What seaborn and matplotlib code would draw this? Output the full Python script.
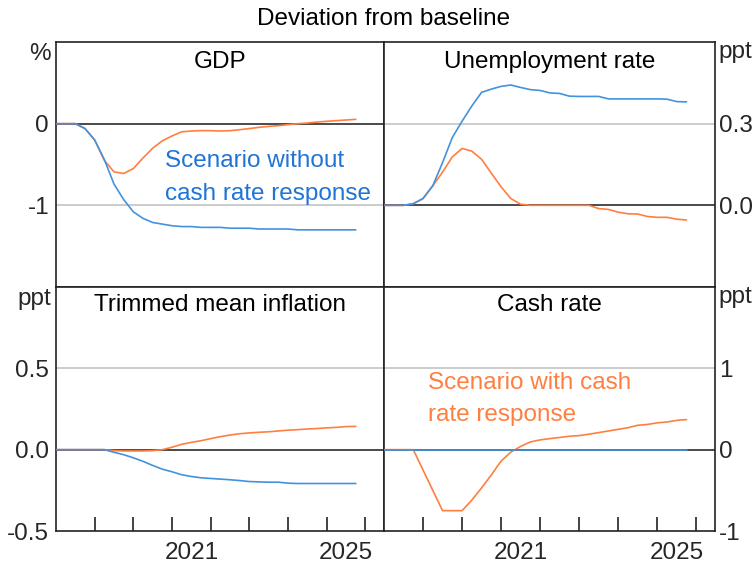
import numpy as np
import pandas as pd
import matplotlib
matplotlib.use("Agg")
import matplotlib.pyplot as plt
import matplotlib.transforms as mtransforms
import seaborn as sns

# ---------------- data ----------------
quarters = pd.period_range("2018Q1", "2025Q4", freq="Q")
t = np.array([q.year + (q.quarter - 1) / 4 for q in quarters])

gdp_without = [0, 0, 0, -0.06, -0.20, -0.44, -0.74, -0.93, -1.08, -1.16, -1.21, -1.23,
               -1.25, -1.26, -1.26, -1.27, -1.27, -1.27, -1.28, -1.28, -1.28, -1.29,
               -1.29, -1.29, -1.29, -1.30, -1.30, -1.30, -1.30, -1.30, -1.30, -1.30]
gdp_with = [0, 0, 0, -0.06, -0.20, -0.45, -0.59, -0.61, -0.55, -0.42, -0.30, -0.21,
            -0.15, -0.10, -0.09, -0.085, -0.086, -0.09, -0.086, -0.074, -0.06, -0.045,
            -0.033, -0.025, -0.012, 0.0, 0.008, 0.02, 0.029, 0.037, 0.045, 0.053]

unemp_without = [0, 0, 0, 0.006, 0.025, 0.072, 0.157, 0.249, 0.309, 0.365, 0.415, 0.427,
                 0.437, 0.442, 0.433, 0.425, 0.422, 0.413, 0.411, 0.401, 0.40, 0.40,
                 0.40, 0.391, 0.391, 0.391, 0.391, 0.391, 0.391, 0.390, 0.381, 0.38]
unemp_with = [0, 0, 0, 0.006, 0.025, 0.072, 0.122, 0.178, 0.209, 0.199, 0.169, 0.118,
              0.068, 0.025, 0.004, 0, 0, 0, 0, 0, 0, 0, -0.012, -0.015, -0.025, -0.031,
              -0.032, -0.041, -0.044, -0.044, -0.051, -0.054]

infl_without = [0, 0, 0, 0, 0, 0, -0.016, -0.031, -0.05, -0.072, -0.097, -0.12, -0.136,
                -0.154, -0.165, -0.173, -0.177, -0.181, -0.185, -0.19, -0.196, -0.198,
                -0.2, -0.2, -0.206, -0.208, -0.208, -0.208, -0.208, -0.208, -0.208, -0.208]
infl_with = [0, 0, 0, 0, 0, 0, -0.006, -0.008, -0.008, -0.008, -0.006, 0.0, 0.015, 0.033,
             0.045, 0.055, 0.068, 0.08, 0.09, 0.098, 0.103, 0.107, 0.11, 0.115, 0.12,
             0.123, 0.127, 0.13, 0.134, 0.137, 0.142, 0.143]

cash_without = [0] * 32
cash_with = [0, 0, 0, 0, -0.25, -0.5, -0.75, -0.75, -0.75, -0.62, -0.47, -0.31, -0.14,
             -0.03, 0.04, 0.095, 0.12, 0.136, 0.15, 0.165, 0.173, 0.19, 0.21, 0.23, 0.25,
             0.27, 0.30, 0.31, 0.33, 0.34, 0.36, 0.37]

panel_titles = ["GDP", "Unemployment rate", "Trimmed mean inflation", "Cash rate"]
units = ["%", "ppt", "ppt", "ppt"]
yticks_gdp = [-2, -1, 0, 1]
ylabels_gdp = ["", "-1", "0", ""]
yticks_unemp = [-0.3, 0.0, 0.3, 0.6]
ylabels_unemp = ["", "0.0", "0.3", ""]
yticks_infl = [-0.5, 0.0, 0.5, 1.0]
ylabels_infl = ["-0.5", "0.0", "0.5", ""]
yticks_cash = [-1, 0, 1, 2]
ylabels_cash = ["-1", "0", "1", ""]
year_ticks = [2019, 2020, 2021, 2022, 2023, 2024, 2025, 2026]
year_label_pos = [2021.5, 2025.5]
year_labels = ["2021", "2025"]

# ---------------- style ----------------
sns.set_theme(style="white")
plt.rcParams["font.family"] = ["Liberation Sans", "DejaVu Sans"]
plt.rcParams["axes.unicode_minus"] = False

BLUE = "#4293dd"
BLUE_TXT = "#1f74d6"
ORANGE = "#ff7f41"
FS = 17.5

W, H = 755, 565
fig = plt.figure(figsize=(W / 100, H / 100), dpi=100)


def add_ax(x0, y0, x1, y1):
    return fig.add_axes([x0 / W, 1 - y1 / H, (x1 - x0) / W, (y1 - y0) / H])


axes = [add_ax(56, 42, 384, 287), add_ax(384, 42, 715, 287),
        add_ax(56, 287, 384, 531), add_ax(384, 287, 715, 531)]

series = [(gdp_without, gdp_with), (unemp_without, unemp_with),
          (infl_without, infl_with), (cash_without, cash_with)]
yconf = [(yticks_gdp, ylabels_gdp), (yticks_unemp, ylabels_unemp),
         (yticks_infl, ylabels_infl), (yticks_cash, ylabels_cash)]

for k, ax in enumerate(axes):
    blue, orange = series[k]
    ticks, labels = yconf[k]
    right = k % 2 == 1
    bottom = k >= 2

    ax.set_facecolor("white")
    for tv in ticks[1:-1]:
        ax.axhline(tv, color="#3c3c3c" if tv == 0 else "#c8c8c8", lw=1.3, zorder=1)

    sns.lineplot(x=t, y=orange, ax=ax, color=ORANGE, lw=1.2, zorder=3)
    sns.lineplot(x=t, y=blue, ax=ax, color=BLUE, lw=1.2, zorder=4)

    ax.set_xlim(2018.0, 2026.48)
    ax.set_ylim(ticks[0], ticks[-1])
    ax.set_yticks(ticks)
    ax.set_yticklabels(labels)
    ax.set_xlabel("")
    ax.set_ylabel("")
    if right:
        ax.yaxis.tick_right()
        ax.tick_params(axis="y", which="both", length=0, pad=3, labelsize=FS)
    else:
        ax.tick_params(axis="y", which="both", length=0, pad=5, labelsize=FS)

    if bottom:
        ax.set_xticks(year_ticks)
        ax.set_xticklabels([""] * len(year_ticks))
        ax.set_xticks(year_label_pos, minor=True)
        ax.set_xticklabels(year_labels, minor=True)
        ax.tick_params(axis="x", which="major", direction="in", length=10, width=1.2,
                       color="#222222", bottom=True)
        ax.tick_params(axis="x", which="minor", length=0, pad=8, labelsize=FS,
                       bottom=True)
    else:
        ax.set_xticks([])

    for sp in ax.spines.values():
        sp.set_visible(True)
        sp.set_color("#222222")
        sp.set_linewidth(1.2)

    ax.text(0.5, 0.918 if not bottom else 0.926, panel_titles[k], transform=ax.transAxes,
            ha="center", va="center", fontsize=FS, color="black")

    if right:
        tr = mtransforms.offset_copy(ax.transAxes, fig=fig, x=3, y=1, units="dots")
        ax.text(1.0, 1.0, units[k], transform=tr, ha="left", va="top", fontsize=FS)
    else:
        tr = mtransforms.offset_copy(ax.transAxes, fig=fig, x=-5, y=-1, units="dots")
        ax.text(0.0, 1.0, units[k], transform=tr, ha="right", va="top", fontsize=FS)

axes[0].text(0.332, 0.447, "Scenario without\ncash rate response", transform=axes[0].transAxes,
             ha="left", va="center", fontsize=FS, color=BLUE_TXT, linespacing=1.6)
axes[3].text(0.133, 0.541, "Scenario with cash\nrate response", transform=axes[3].transAxes,
             ha="left", va="center", fontsize=FS, color=ORANGE, linespacing=1.6)

fig.text(384 / W, 1 - 19 / H, "Deviation from baseline", ha="center", va="center",
         fontsize=FS, color="black")

fig.savefig("out.png", dpi=100, facecolor="white")
